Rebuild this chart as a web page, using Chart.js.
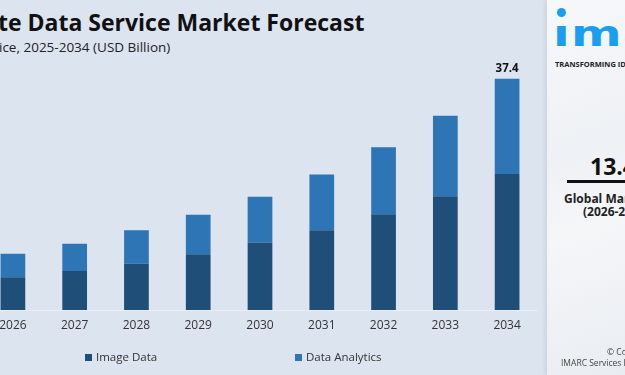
<!DOCTYPE html>
<html>
<head>
<meta charset="utf-8">
<script src="https://cdn.jsdelivr.net/npm/chart.js@4.4.1/dist/chart.umd.min.js"></script>
<style>
  html, body { margin: 0; padding: 0; }
  body {
    width: 625px; height: 375px; overflow: hidden; position: relative;
    background: #dce4f0; font-family: "Open Sans", sans-serif;
  }
  #titulo {
    position: absolute; left: -2px; top: 6px; margin: 0;
    font-size: 23px; font-weight: 700; color: #111; white-space: nowrap;
  }
  #subtitulo {
    position: absolute; left: -1px; top: 38px; margin: 0;
    font-size: 13.5px; color: #222; white-space: nowrap;
  }
  #lienzo { position: absolute; left: -18.4px; top: 0; }
  .leyenda {
    position: absolute; top: 349px; font-size: 11.5px; color: #333; white-space: nowrap;
  }
  .leyenda span {
    display: inline-block; width: 7px; height: 7px; margin-right: 4px; vertical-align: 0px;
  }
  #panel {
    position: absolute; left: 547px; top: 0; width: 78px; height: 375px;
    background: linear-gradient(160deg, #f7f8fa 0%, #eef1f5 40%, #f5f6f8 60%, #e9edf2 100%);
    box-shadow: -2px 0 4px rgba(0,0,0,0.08); overflow: hidden;
  }
  #panel div { position: absolute; white-space: nowrap; }
  #logo {
    left: 6px; top: 16px; font-family: "DejaVu Sans", sans-serif; font-size: 36px; font-weight: 700;
    color: #1a9ff0; letter-spacing: 1px; line-height: 36px; transform: scaleX(1.35); transform-origin: left top;
  }
  #punto { left: 10px; top: 8px; width: 9px; height: 9px; border-radius: 50%; background: #1a9ff0; }
  #lema { left: 8px; top: 59px; font-size: 7.5px; font-weight: 700; color: #222; }
  #valor { left: 43px; top: 150px; font-size: 23px; font-weight: 700; color: #111; }
  #linea { left: 20px; top: 180px; width: 70px; height: 3px; background: #111; }
  #mercado { left: 17px; top: 190px; font-size: 12px; font-weight: 700; color: #222; }
  #periodo { left: 36px; top: 203px; font-size: 12px; font-weight: 700; color: #222; }
  #copia { left: 60px; top: 346px; font-size: 8.5px; color: #444; }
  #imarc { left: 14px; top: 357px; font-size: 8.5px; color: #444; }
</style>
</head>
<body>
<p id="titulo">te Data Service Market Forecast</p>
<p id="subtitulo">ice, 2025-2034 (USD Billion)</p>
<canvas id="lienzo" width="556" height="360"></canvas>
<div class="leyenda" style="left:85px"><span style="background:#1f4e79"></span>Image Data</div>
<div class="leyenda" style="left:295px"><span style="background:#2e75b6"></span>Data Analytics</div>
<div id="panel">
  <div id="punto"></div>
  <div id="logo">ımarc</div>
  <div id="lema">TRANSFORMING IDEAS INTO IMPACT</div>
  <div id="valor">13.4</div>
  <div id="linea"></div>
  <div id="mercado">Global Market</div>
  <div id="periodo">(2026-2034)</div>
  <div id="copia">© Copyright</div>
  <div id="imarc">IMARC Services Pvt. Ltd.</div>
</div>
<script>
const anios = ['2026', '2027', '2028', '2029', '2030', '2031', '2032', '2033', '2034'];
const imageData = [5.3, 6.3, 7.5, 9.0, 10.9, 12.9, 15.5, 18.4, 22.0];
const dataAnalytics = [3.8, 4.4, 5.4, 6.4, 7.4, 9.0, 10.8, 13.0, 15.4];
const etiquetaFinal = '37.4';

const etiquetaTotal = {
    id: 'etiquetaTotal',
    afterDatasetsDraw(chart) {
        const ctx = chart.ctx;
        const meta = chart.getDatasetMeta(1);
        const ultima = meta.data[meta.data.length - 1];
        ctx.save();
        ctx.font = 'bold 11.5px "Open Sans", sans-serif';
        ctx.fillStyle = '#111';
        ctx.textAlign = 'center';
        ctx.textBaseline = 'bottom';
        ctx.fillText(etiquetaFinal, ultima.x, ultima.y - 4);
        ctx.restore();
    }
};

new Chart(document.querySelector('#lienzo'), {
    type: 'bar',
    data: {
        labels: anios,
        datasets: [
            { label: 'Image Data', data: imageData, backgroundColor: '#1f4e79' },
            { label: 'Data Analytics', data: dataAnalytics, backgroundColor: '#2e75b6' }
        ]
    },
    options: {
        responsive: false,
        animation: false,
        layout: { padding: { top: 62.6, bottom: 19.6, left: 0, right: 0 } },
        datasets: { bar: { categoryPercentage: 1, barPercentage: 0.4 } },
        scales: {
            x: {
                stacked: true,
                grid: { display: false, drawTicks: false },
                border: { display: true, color: '#e9eef6', width: 1 },
                ticks: { padding: 8, color: '#333', font: { size: 12, family: '"Open Sans", sans-serif' } }
            },
            y: {
                stacked: true,
                display: false,
                min: 0,
                max: 40
            }
        },
        plugins: {
            legend: { display: false },
            tooltip: { enabled: false }
        }
    },
    plugins: [etiquetaTotal]
});
</script>
</body>
</html>
